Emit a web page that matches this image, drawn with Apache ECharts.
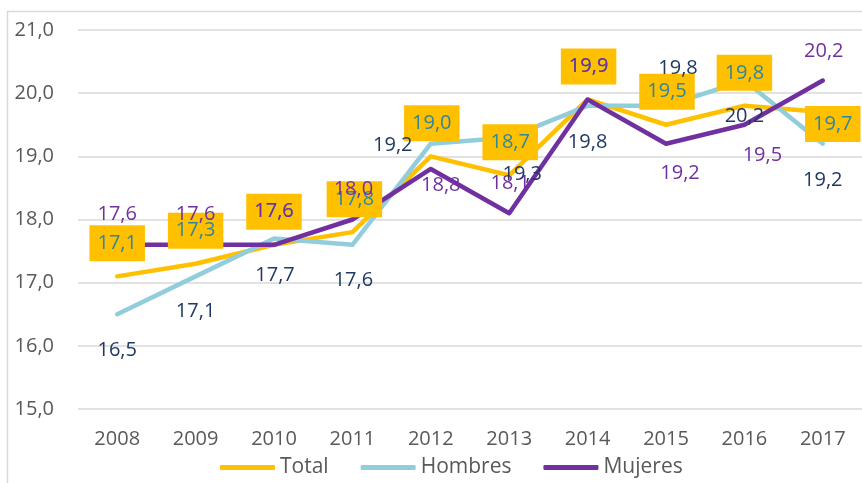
<!DOCTYPE html>
<html>
<head>
<meta charset="utf-8">
<script src="https://cdn.jsdelivr.net/npm/echarts@6/dist/echarts.min.js"></script>
<style>html,body{margin:0;padding:0;background:#fff}#c{width:862px;height:483px}</style>
</head>
<body>
<div id="c"></div>
<script>
const years = ['2008','2009','2010','2011','2012','2013','2014','2015','2016','2017'];
const total   = [17.1, 17.3, 17.6, 17.8, 19.0, 18.7, 19.9, 19.5, 19.8, 19.7];
const hombres = [16.5, 17.1, 17.7, 17.6, 19.2, 19.3, 19.8, 19.8, 20.2, 19.2];
const mujeres = [17.6, 17.6, 17.6, 18.0, 18.8, 18.1, 19.9, 19.2, 19.5, 20.2];

// label offsets (style only)
const totalOff   = [[0,-33],[0,-33],[0,-33],[2,-33],[1,-33],[1,-33],[1,-33],[1,-33],[0,-33],[10,12]];
const hombresOff = [[0,36],[0,35],[1,37],[1,36],[-38,2],[13,37],[0,36],[12,-38],[0,36],[0,37]];
const mujeresOff = [[0,-30],[0,-30],[0,-33],[1,-30],[10,16],[1,-30],[1,-33],[14,30],[18,31],[1,-29]];

const FONT = 'Open Sans';
const fmt = v => Number(v).toFixed(1).replace('.', ',');

function lineSeries(name, data, color) {
  return {
    name, type: 'line', data, z: 2,
    symbol: 'none', smooth: false,
    lineStyle: { color, width: 4.5, cap: 'round', join: 'round' },
    itemStyle: { color },
    emphasis: { disabled: true }, silent: true
  };
}
function labelSeries(name, data, offs, labelStyle, z) {
  return {
    name, type: 'scatter', z,
    symbolSize: 1, itemStyle: { color: 'rgba(0,0,0,0)', opacity: 1 },
    silent: true, emphasis: { disabled: true },
    data: data.map((v, i) => ({
      value: v,
      label: { offset: offs[i] }
    })),
    label: Object.assign({
      show: true, position: 'inside', opacity: 1,
      fontFamily: FONT, fontSize: 20,
      formatter: p => fmt(p.value)
    }, labelStyle)
  };
}

const chart = echarts.init(document.getElementById('c'), null, { renderer: 'canvas' });
chart.setOption({
  animation: false,
  backgroundColor: '#fff',
  graphic: [{
    type: 'rect', z: 0, silent: true,
    shape: { x: 7.5, y: 11.5, width: 900, height: 500 },
    style: { fill: 'none', stroke: '#d9d9d9', lineWidth: 1.5 }
  }],
  grid: { left: 78, top: 30, width: 790, height: 379, containLabel: false },
  xAxis: {
    type: 'category', data: years, boundaryGap: true,
    axisLine: { show: false }, axisTick: { show: false },
    axisLabel: { color: '#595959', fontFamily: FONT, fontSize: 20, margin: 20 }
  },
  yAxis: {
    type: 'value', min: 15, max: 21, interval: 1,
    axisLine: { show: false }, axisTick: { show: false },
    axisLabel: { color: '#595959', fontFamily: FONT, fontSize: 20, margin: 24, formatter: v => fmt(v) },
    splitLine: { lineStyle: { color: '#d9d9d9', width: 1.5 } }
  },
  legend: {
    data: [
      { name: 'Total', icon: 'roundRect' },
      { name: 'Hombres', icon: 'roundRect' },
      { name: 'Mujeres', icon: 'roundRect' }
    ],
    left: 220, top: 457, padding: 0, itemWidth: 55, itemHeight: 5, itemGap: 32,
    textStyle: { color: '#595959', fontFamily: FONT, fontSize: 21 },
    selectedMode: false
  },
  series: [
    lineSeries('Total', total, '#FFC000'),
    lineSeries('Hombres', hombres, '#92CDDC'),
    lineSeries('Mujeres', mujeres, '#7030A0'),
    labelSeries('TotalLbl', total, totalOff, { color: '#31859C', backgroundColor: '#FFC000', padding: [8, 8, 8, 8] }, 3),
    labelSeries('MujeresLbl', mujeres, mujeresOff, { color: '#7030A0' }, 4),
    labelSeries('HombresLbl', hombres, hombresOff, { color: '#1F3864' }, 5)
  ]
});
</script>
</body>
</html>
